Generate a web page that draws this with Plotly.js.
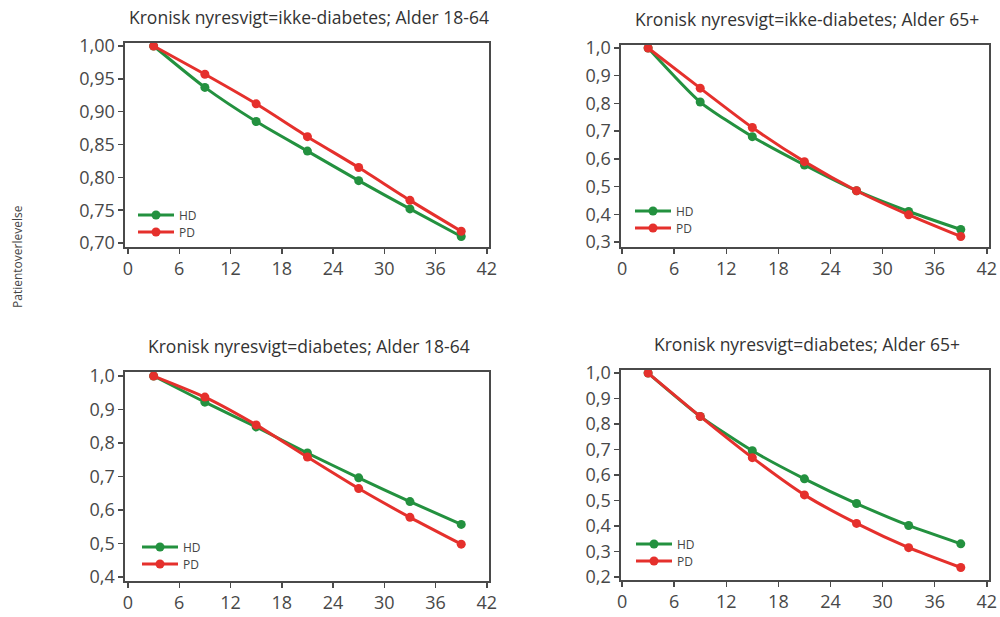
<!DOCTYPE html>
<html>
<head>
<meta charset="utf-8">
<script src="https://cdn.plot.ly/plotly-3.0.1.min.js"></script>
<style>html,body{margin:0;padding:0;background:#fff;}#chart{width:1000px;height:617px;}</style>
</head>
<body>
<div id="chart"></div>
<script>
// Months
const months = [3, 9, 15, 21, 27, 33, 39];
const seriesNames = ["HD", "PD"];
const panelTitles = [
  "Kronisk nyresvigt=ikke-diabetes; Alder 18-64",
  "Kronisk nyresvigt=ikke-diabetes; Alder 65+",
  "Kronisk nyresvigt=diabetes; Alder 18-64",
  "Kronisk nyresvigt=diabetes; Alder 65+"
];
const yAxisTitle = "Patientoverlevelse";
const xTicks = [0, 6, 12, 18, 24, 30, 36, 42];

// Panel 1: ikke-diabetes, 18-64
const hd1 = [1.000, 0.937, 0.885, 0.840, 0.795, 0.752, 0.710];
const pd1 = [1.000, 0.957, 0.912, 0.862, 0.815, 0.765, 0.718];
// Panel 2: ikke-diabetes, 65+
const hd2 = [1.000, 0.805, 0.680, 0.578, 0.485, 0.410, 0.345];
const pd2 = [1.000, 0.855, 0.713, 0.590, 0.485, 0.398, 0.320];
// Panel 3: diabetes, 18-64
const hd3 = [1.000, 0.922, 0.848, 0.770, 0.696, 0.625, 0.557];
const pd3 = [1.000, 0.937, 0.854, 0.758, 0.664, 0.578, 0.498];
// Panel 4: diabetes, 65+
const hd4 = [1.000, 0.830, 0.695, 0.585, 0.488, 0.402, 0.330];
const pd4 = [1.000, 0.830, 0.668, 0.522, 0.410, 0.315, 0.237];

const yTicks1 = [0.70, 0.75, 0.80, 0.85, 0.90, 0.95, 1.00];
const yTicks2 = [0.3, 0.4, 0.5, 0.6, 0.7, 0.8, 0.9, 1.0];
const yTicks3 = [0.4, 0.5, 0.6, 0.7, 0.8, 0.9, 1.0];
const yTicks4 = [0.2, 0.3, 0.4, 0.5, 0.6, 0.7, 0.8, 0.9, 1.0];

const GREEN = "#23913f";
const RED = "#e5302c";
const FONT = "'Open Sans', sans-serif";
const W = 1000, H = 617;

const panels = [
  {hd: hd1, pd: pd1, yt: yTicks1, fmt: ".2f", xr: [-0.35, 42.25], yr: [0.694, 1.0046], xd: [125, 489], yd: [247, 43], legX: 133, legY: [215, 232]},
  {hd: hd2, pd: pd2, yt: yTicks2, fmt: ".1f", xr: [-0.12, 42.25], yr: [0.282, 1.0108], xd: [621, 989], yd: [247, 45], legX: 630, legY: [211, 228]},
  {hd: hd3, pd: pd3, yt: yTicks3, fmt: ".1f", xr: [-0.35, 42.25], yr: [0.388, 1.012], xd: [125, 489], yd: [581, 372], legX: 137, legY: [547, 564]},
  {hd: hd4, pd: pd4, yt: yTicks4, fmt: ".1f", xr: [-0.12, 42.25], yr: [0.188, 1.012], xd: [621, 989], yd: [580, 370], legX: 631, legY: [544, 561]}
];

const data = [];
const layout = {
  width: W, height: H,
  margin: {l: 0, r: 0, t: 0, b: 0},
  paper_bgcolor: "#fff", plot_bgcolor: "#fff",
  separators: ",.",
  font: {family: FONT, color: "#444", size: 16},
  annotations: [],
  showlegend: true
};

let legIdx = 0;
panels.forEach((p, i) => {
  const n = i + 1;
  const xa = n === 1 ? "x" : "x" + n;
  const ya = n === 1 ? "y" : "y" + n;
  const xd = [p.xd[0] / W, p.xd[1] / W];
  const yd = [1 - p.yd[0] / H, 1 - p.yd[1] / H];
  [[seriesNames[0], p.hd, GREEN], [seriesNames[1], p.pd, RED]].forEach(([name, ys, col], k) => {
    legIdx++;
    const lg = legIdx === 1 ? "legend" : "legend" + legIdx;
    data.push({
      x: months, y: ys, name: name, type: "scatter", mode: "lines+markers",
      xaxis: xa, yaxis: ya, legend: lg,
      line: {color: col, width: 3, shape: "spline", smoothing: 0.6},
      marker: {color: col, size: 9},
      hoverinfo: "x+y"
    });
    layout[lg] = {
      x: p.legX / W, y: 1 - p.legY[k] / H, xanchor: "left", yanchor: "middle",
      bgcolor: "rgba(0,0,0,0)", borderwidth: 0,
      font: {family: FONT, size: 12, color: "#444"},
      itemwidth: 36
    };
  });
  const axBase = {
    showgrid: false, zeroline: false, showline: true, mirror: true,
    linecolor: "#4a4a4a", linewidth: 1.6,
    ticks: "outside", ticklen: 5, tickcolor: "#4a4a4a", tickwidth: 1.5,
    tickfont: {family: FONT, size: 18, color: "#484848"}
  };
  layout["xaxis" + (n === 1 ? "" : n)] = Object.assign({}, axBase, {
    domain: xd, range: p.xr, tickvals: xTicks, anchor: ya, fixedrange: true
  });
  layout["yaxis" + (n === 1 ? "" : n)] = Object.assign({}, axBase, {
    domain: yd, range: p.yr, tickvals: p.yt, tickformat: p.fmt, anchor: xa, fixedrange: true
  });
  layout.annotations.push({
    text: panelTitles[i], xref: "paper", yref: "paper",
    x: (xd[0] + xd[1]) / 2 + 2 / W, y: yd[1] + 12 / H,
    xanchor: "center", yanchor: "bottom", showarrow: false,
    font: {family: FONT, size: 17.5, color: "#333"}
  });
});

layout.annotations.push({
  text: yAxisTitle, xref: "paper", yref: "paper",
  x: 17 / W, y: 1 - 257 / H, xanchor: "center", yanchor: "middle",
  textangle: -90, showarrow: false,
  font: {family: FONT, size: 12, color: "#444"}
});

Plotly.newPlot("chart", data, layout, {displayModeBar: false, staticPlot: true});
</script>
</body>
</html>
